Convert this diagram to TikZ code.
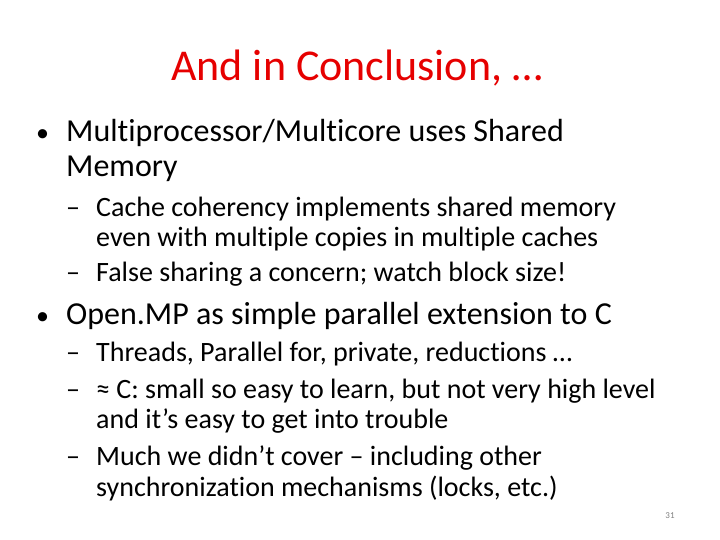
\documentclass[tikz,border=0pt]{standalone}
\usepackage{fontspec}
\setmainfont{Carlito}[Ligatures=NoCommon]
\begin{document}
\begin{tikzpicture}[x=1pt,y=-1pt,
  t1/.style={anchor=base west,inner sep=0pt,font=\fontsize{32}{34}\selectfont},
  bl/.style={anchor=base west,inner sep=0pt,font=\fontsize{26}{28}\selectfont},
  t2/.style={anchor=base west,inner sep=0pt,font=\fontsize{28}{30}\selectfont}]
\useasboundingbox (0,0) rectangle (720,540);
\node[anchor=base,inner sep=0pt,text={rgb,255:red,230;green,0;blue,0},font=\fontsize{44}{46}\selectfont] (title) at (357,81) {And in Conclusion, …};
\node[bl] (b1) at (36,142) {•};
\node[t1] (l1) at (66,142) {Multiprocessor/Multicore uses Shared};
\node[t1] (l2) at (66,177) {Memory};
\node[t2] (d1) at (66,216) {–};
\node[t2] (l3) at (96,216) {Cache coherency implements shared memory};
\node[t2] (l4) at (96,246) {even with multiple copies in multiple caches};
\node[t2] (d2) at (66,281) {–};
\node[t2] (l5) at (96,281) {False sharing a concern; watch block size!};
\node[bl] (b2) at (36,324) {•};
\node[t1] (l6) at (66,324) {Open.MP as simple parallel extension to C};
\node[t2] (d3) at (66,361) {–};
\node[t2] (l7) at (96,361) {Threads, Parallel for, private, reductions …};
\node[t2] (d4) at (66,398) {–};
\node[t2] (l8) at (96,398) {≈ C: small so easy to learn, but not very high level};
\node[t2] (l9) at (96,428) {and it’s easy to get into trouble};
\node[t2] (d5) at (66,465) {–};
\node[t2] (l10) at (96,465) {Much we didn’t cover – including other};
\node[t2] (l11) at (96,496) {synchronization mechanisms (locks, etc.)};
\node[anchor=base,inner sep=0pt,text=gray,font=\fontsize{9}{11}\selectfont] (pg) at (670,518) {31};
\end{tikzpicture}
\end{document}
